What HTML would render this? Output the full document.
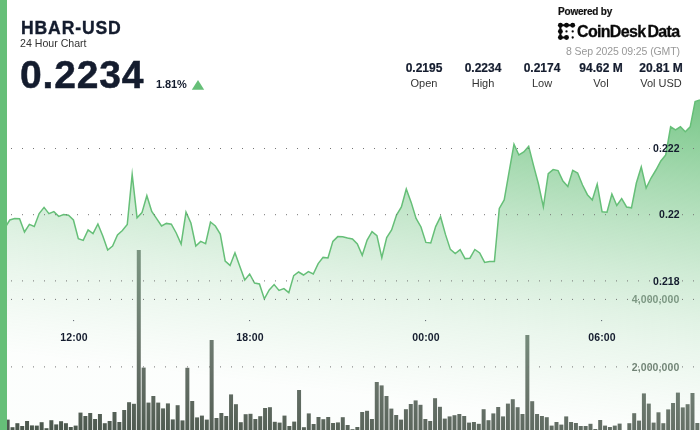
<!DOCTYPE html>
<html><head><meta charset="utf-8"><title>HBAR-USD</title>
<style>
html,body{margin:0;padding:0;background:#fff;}
body{width:700px;height:430px;position:relative;overflow:hidden;font-family:"Liberation Sans",sans-serif;color:#141c2e;}
.abs{position:absolute;white-space:nowrap;line-height:1;will-change:transform;}
#bar{position:absolute;left:0;top:0;width:7.4px;height:430px;background:#66bf78;}
svg{position:absolute;left:0;top:0;will-change:transform;}
.b{font-weight:bold;}
.stat{position:absolute;width:60px;text-align:center;white-space:nowrap;line-height:1;will-change:transform;}
.sv{-webkit-text-stroke:0.2px #141c2e;font-weight:bold;font-size:12px;top:62px;letter-spacing:0px;}
.sl{font-size:11px;top:77.5px;color:#333;}
.ax{font-weight:bold;font-size:10.5px;text-align:right;}
</style></head><body>
<svg width="700" height="430" viewBox="0 0 700 430">
<defs><linearGradient id="g" x1="688" y1="99" x2="648.4" y2="429.2" gradientUnits="userSpaceOnUse">
<stop offset="0.0000" stop-color="#66bf78" stop-opacity="0.885"/><stop offset="0.1104" stop-color="#66bf78" stop-opacity="0.745"/><stop offset="0.2507" stop-color="#66bf78" stop-opacity="0.58"/><stop offset="0.3910" stop-color="#66bf78" stop-opacity="0.43"/><stop offset="0.5254" stop-color="#66bf78" stop-opacity="0.305"/><stop offset="0.6597" stop-color="#66bf78" stop-opacity="0.196"/><stop offset="0.7493" stop-color="#66bf78" stop-opacity="0.137"/><stop offset="0.9015" stop-color="#66bf78" stop-opacity="0.06"/><stop offset="1.0000" stop-color="#66bf78" stop-opacity="0.02"/>
</linearGradient>
<linearGradient id="bg" x1="688" y1="300" x2="662" y2="516.9" gradientUnits="userSpaceOnUse"><stop offset="0.0000" stop-color="rgb(124,152,131)"/><stop offset="0.0727" stop-color="rgb(122,148,128)"/><stop offset="0.2955" stop-color="rgb(115,135,120)"/><stop offset="0.4455" stop-color="rgb(109,123,112)"/><stop offset="0.5682" stop-color="rgb(103,114,104)"/><stop offset="0.6364" stop-color="rgb(98,109,100)"/><stop offset="0.7500" stop-color="rgb(91,102,92)"/><stop offset="0.9273" stop-color="rgb(76,88,78)"/><stop offset="1.0000" stop-color="rgb(72,84,74)"/></linearGradient></defs>
<path d="M0.00,230.0 L4.90,228.0 L9.79,220.0 L14.69,218.6 L19.58,218.8 L24.48,232.0 L29.37,224.4 L34.27,226.4 L39.16,213.6 L44.06,207.4 L48.95,213.6 L53.85,211.6 L58.74,216.4 L63.64,214.6 L68.53,215.2 L73.43,220.0 L78.32,238.6 L83.22,240.4 L88.11,230.0 L93.01,233.6 L97.90,224.0 L102.80,236.0 L107.69,250.0 L112.59,246.0 L117.48,235.0 L122.38,230.5 L127.27,224.4 L132.17,174.4 L137.06,217.8 L141.96,212.6 L146.85,195.7 L151.75,211.4 L156.64,218.6 L161.54,226.0 L166.43,223.4 L171.33,224.2 L176.22,233.0 L181.12,244.1 L186.01,212.2 L190.91,223.0 L195.80,246.0 L200.70,241.4 L205.59,243.6 L210.49,222.0 L215.38,226.0 L220.28,234.0 L225.17,261.0 L230.07,265.4 L234.97,252.8 L239.86,266.6 L244.76,280.0 L249.65,274.0 L254.55,283.0 L259.44,284.0 L264.34,298.9 L269.23,290.0 L274.13,284.6 L279.02,290.4 L283.92,288.6 L288.81,292.6 L293.71,275.6 L298.60,272.0 L303.50,275.0 L308.39,271.6 L313.29,274.0 L318.18,263.6 L323.08,257.4 L327.97,258.0 L332.87,241.4 L337.76,236.6 L342.66,236.8 L347.55,238.0 L352.45,239.0 L357.34,244.0 L362.24,255.3 L367.13,240.0 L372.03,231.6 L376.92,235.6 L381.82,257.6 L386.71,237.6 L391.61,230.0 L396.50,215.0 L401.40,207.0 L406.29,189.0 L411.19,202.4 L416.08,218.4 L420.98,227.0 L425.87,242.4 L430.77,243.0 L435.66,226.6 L440.56,216.7 L445.45,234.4 L450.35,249.4 L455.24,253.6 L460.14,249.6 L465.03,258.6 L469.93,258.2 L474.83,249.5 L479.72,253.0 L484.62,262.4 L489.51,261.4 L494.41,261.4 L499.30,208.4 L504.20,200.0 L509.09,171.8 L513.99,144.3 L518.88,155.0 L523.78,152.0 L528.67,146.4 L533.57,165.6 L538.46,184.0 L543.36,206.8 L548.25,173.6 L553.15,169.6 L558.04,170.6 L562.94,181.0 L567.83,186.4 L572.73,170.4 L577.62,173.0 L582.52,185.0 L587.41,194.7 L592.31,200.0 L597.20,184.1 L602.10,211.8 L606.99,212.2 L611.89,194.0 L616.78,205.5 L621.68,198.6 L626.57,207.0 L631.47,207.8 L636.36,183.0 L641.26,167.0 L646.15,188.1 L651.05,178.0 L655.94,170.0 L660.84,161.0 L665.73,155.0 L670.63,126.8 L675.52,129.8 L680.42,126.8 L685.31,131.8 L690.21,126.9 L695.10,101.6 L700.00,100.0 L700,434 L0,434 Z" fill="url(#g)"/>
<path d="M0.00,230.0 L4.90,228.0 L9.79,220.0 L14.69,218.6 L19.58,218.8 L24.48,232.0 L29.37,224.4 L34.27,226.4 L39.16,213.6 L44.06,207.4 L48.95,213.6 L53.85,211.6 L58.74,216.4 L63.64,214.6 L68.53,215.2 L73.43,220.0 L78.32,238.6 L83.22,240.4 L88.11,230.0 L93.01,233.6 L97.90,224.0 L102.80,236.0 L107.69,250.0 L112.59,246.0 L117.48,235.0 L122.38,230.5 L127.27,224.4 L132.17,174.4 L137.06,217.8 L141.96,212.6 L146.85,195.7 L151.75,211.4 L156.64,218.6 L161.54,226.0 L166.43,223.4 L171.33,224.2 L176.22,233.0 L181.12,244.1 L186.01,212.2 L190.91,223.0 L195.80,246.0 L200.70,241.4 L205.59,243.6 L210.49,222.0 L215.38,226.0 L220.28,234.0 L225.17,261.0 L230.07,265.4 L234.97,252.8 L239.86,266.6 L244.76,280.0 L249.65,274.0 L254.55,283.0 L259.44,284.0 L264.34,298.9 L269.23,290.0 L274.13,284.6 L279.02,290.4 L283.92,288.6 L288.81,292.6 L293.71,275.6 L298.60,272.0 L303.50,275.0 L308.39,271.6 L313.29,274.0 L318.18,263.6 L323.08,257.4 L327.97,258.0 L332.87,241.4 L337.76,236.6 L342.66,236.8 L347.55,238.0 L352.45,239.0 L357.34,244.0 L362.24,255.3 L367.13,240.0 L372.03,231.6 L376.92,235.6 L381.82,257.6 L386.71,237.6 L391.61,230.0 L396.50,215.0 L401.40,207.0 L406.29,189.0 L411.19,202.4 L416.08,218.4 L420.98,227.0 L425.87,242.4 L430.77,243.0 L435.66,226.6 L440.56,216.7 L445.45,234.4 L450.35,249.4 L455.24,253.6 L460.14,249.6 L465.03,258.6 L469.93,258.2 L474.83,249.5 L479.72,253.0 L484.62,262.4 L489.51,261.4 L494.41,261.4 L499.30,208.4 L504.20,200.0 L509.09,171.8 L513.99,144.3 L518.88,155.0 L523.78,152.0 L528.67,146.4 L533.57,165.6 L538.46,184.0 L543.36,206.8 L548.25,173.6 L553.15,169.6 L558.04,170.6 L562.94,181.0 L567.83,186.4 L572.73,170.4 L577.62,173.0 L582.52,185.0 L587.41,194.7 L592.31,200.0 L597.20,184.1 L602.10,211.8 L606.99,212.2 L611.89,194.0 L616.78,205.5 L621.68,198.6 L626.57,207.0 L631.47,207.8 L636.36,183.0 L641.26,167.0 L646.15,188.1 L651.05,178.0 L655.94,170.0 L660.84,161.0 L665.73,155.0 L670.63,126.8 L675.52,129.8 L680.42,126.8 L685.31,131.8 L690.21,126.9 L695.10,101.6 L700.00,100.0" fill="none" stroke="#66bf78" stroke-width="1.5" stroke-linejoin="miter" stroke-miterlimit="20"/>
<g fill="url(#bg)"><rect x="5.64" y="419.6" width="4" height="14.4"/><rect x="10.50" y="427.2" width="4" height="6.8"/><rect x="15.36" y="423.2" width="4" height="10.8"/><rect x="20.21" y="426.0" width="4" height="8.0"/><rect x="25.07" y="421.0" width="4" height="13.0"/><rect x="29.93" y="425.4" width="4" height="8.6"/><rect x="34.79" y="425.6" width="4" height="8.4"/><rect x="39.64" y="422.2" width="4" height="11.8"/><rect x="44.50" y="428.2" width="4" height="5.8"/><rect x="49.36" y="420.2" width="4" height="13.8"/><rect x="54.21" y="424.4" width="4" height="9.6"/><rect x="59.07" y="421.2" width="4" height="12.8"/><rect x="63.93" y="423.2" width="4" height="10.8"/><rect x="68.78" y="427.0" width="4" height="7.0"/><rect x="73.64" y="425.6" width="4" height="8.4"/><rect x="78.50" y="412.6" width="4" height="21.4"/><rect x="83.36" y="416.0" width="4" height="18.0"/><rect x="88.21" y="413.0" width="4" height="21.0"/><rect x="93.07" y="419.0" width="4" height="15.0"/><rect x="97.93" y="414.0" width="4" height="20.0"/><rect x="102.78" y="423.2" width="4" height="10.8"/><rect x="107.64" y="421.0" width="4" height="13.0"/><rect x="112.50" y="412.0" width="4" height="22.0"/><rect x="117.35" y="422.0" width="4" height="12.0"/><rect x="122.21" y="410.0" width="4" height="24.0"/><rect x="127.07" y="402.2" width="4" height="31.8"/><rect x="131.93" y="403.8" width="4" height="30.2"/><rect x="136.78" y="250.0" width="4" height="184.0"/><rect x="141.64" y="367.6" width="4" height="66.4"/><rect x="146.50" y="402.6" width="4" height="31.4"/><rect x="151.35" y="396.0" width="4" height="38.0"/><rect x="156.21" y="402.6" width="4" height="31.4"/><rect x="161.07" y="408.4" width="4" height="25.6"/><rect x="165.92" y="403.4" width="4" height="30.6"/><rect x="170.78" y="419.4" width="4" height="14.6"/><rect x="175.64" y="405.2" width="4" height="28.8"/><rect x="180.50" y="420.4" width="4" height="13.6"/><rect x="185.35" y="367.8" width="4" height="66.2"/><rect x="190.21" y="401.0" width="4" height="33.0"/><rect x="195.07" y="417.4" width="4" height="16.6"/><rect x="199.92" y="415.6" width="4" height="18.4"/><rect x="204.78" y="419.6" width="4" height="14.4"/><rect x="209.64" y="340.0" width="4" height="94.0"/><rect x="214.49" y="418.0" width="4" height="16.0"/><rect x="219.35" y="413.0" width="4" height="21.0"/><rect x="224.21" y="416.0" width="4" height="18.0"/><rect x="229.06" y="394.4" width="4" height="39.6"/><rect x="233.92" y="404.2" width="4" height="29.8"/><rect x="238.78" y="422.2" width="4" height="11.8"/><rect x="243.64" y="414.2" width="4" height="19.8"/><rect x="248.49" y="413.8" width="4" height="20.2"/><rect x="253.35" y="419.0" width="4" height="15.0"/><rect x="258.21" y="416.2" width="4" height="17.8"/><rect x="263.06" y="408.0" width="4" height="26.0"/><rect x="267.92" y="407.2" width="4" height="26.8"/><rect x="272.78" y="421.8" width="4" height="12.2"/><rect x="277.63" y="422.6" width="4" height="11.4"/><rect x="282.49" y="415.6" width="4" height="18.4"/><rect x="287.35" y="426.0" width="4" height="8.0"/><rect x="292.21" y="421.6" width="4" height="12.4"/><rect x="297.06" y="390.0" width="4" height="44.0"/><rect x="301.92" y="427.2" width="4" height="6.8"/><rect x="306.78" y="413.4" width="4" height="20.6"/><rect x="311.63" y="424.0" width="4" height="10.0"/><rect x="316.49" y="417.0" width="4" height="17.0"/><rect x="321.35" y="419.2" width="4" height="14.8"/><rect x="326.21" y="417.0" width="4" height="17.0"/><rect x="331.06" y="423.0" width="4" height="11.0"/><rect x="335.92" y="422.4" width="4" height="11.6"/><rect x="340.78" y="417.2" width="4" height="16.8"/><rect x="345.63" y="425.0" width="4" height="9.0"/><rect x="350.49" y="429.2" width="4" height="4.8"/><rect x="355.35" y="427.0" width="4" height="7.0"/><rect x="360.20" y="412.0" width="4" height="22.0"/><rect x="365.06" y="410.8" width="4" height="23.2"/><rect x="369.92" y="419.0" width="4" height="15.0"/><rect x="374.78" y="382.0" width="4" height="52.0"/><rect x="379.63" y="385.4" width="4" height="48.6"/><rect x="384.49" y="396.0" width="4" height="38.0"/><rect x="389.35" y="408.6" width="4" height="25.4"/><rect x="394.20" y="415.0" width="4" height="19.0"/><rect x="399.06" y="419.6" width="4" height="14.4"/><rect x="403.92" y="409.2" width="4" height="24.8"/><rect x="408.77" y="404.0" width="4" height="30.0"/><rect x="413.63" y="400.4" width="4" height="33.6"/><rect x="418.49" y="404.8" width="4" height="29.2"/><rect x="423.35" y="419.0" width="4" height="15.0"/><rect x="428.20" y="421.0" width="4" height="13.0"/><rect x="433.06" y="398.2" width="4" height="35.8"/><rect x="437.92" y="406.8" width="4" height="27.2"/><rect x="442.77" y="418.6" width="4" height="15.4"/><rect x="447.63" y="416.4" width="4" height="17.6"/><rect x="452.49" y="415.2" width="4" height="18.8"/><rect x="457.34" y="414.0" width="4" height="20.0"/><rect x="462.20" y="416.0" width="4" height="18.0"/><rect x="467.06" y="422.6" width="4" height="11.4"/><rect x="471.92" y="422.0" width="4" height="12.0"/><rect x="476.77" y="423.8" width="4" height="10.2"/><rect x="481.63" y="409.2" width="4" height="24.8"/><rect x="486.49" y="420.2" width="4" height="13.8"/><rect x="491.34" y="413.4" width="4" height="20.6"/><rect x="496.20" y="407.0" width="4" height="27.0"/><rect x="501.06" y="416.4" width="4" height="17.6"/><rect x="505.91" y="403.6" width="4" height="30.4"/><rect x="510.77" y="399.2" width="4" height="34.8"/><rect x="515.63" y="407.2" width="4" height="26.8"/><rect x="520.49" y="414.0" width="4" height="20.0"/><rect x="525.34" y="335.0" width="4" height="99.0"/><rect x="530.20" y="401.2" width="4" height="32.8"/><rect x="535.06" y="414.0" width="4" height="20.0"/><rect x="539.91" y="416.0" width="4" height="18.0"/><rect x="544.77" y="417.2" width="4" height="16.8"/><rect x="549.63" y="425.6" width="4" height="8.4"/><rect x="554.48" y="422.0" width="4" height="12.0"/><rect x="559.34" y="424.6" width="4" height="9.4"/><rect x="564.20" y="416.4" width="4" height="17.6"/><rect x="569.06" y="422.0" width="4" height="12.0"/><rect x="573.91" y="423.0" width="4" height="11.0"/><rect x="578.77" y="426.0" width="4" height="8.0"/><rect x="583.63" y="426.0" width="4" height="8.0"/><rect x="588.48" y="423.8" width="4" height="10.2"/><rect x="593.34" y="429.0" width="4" height="5.0"/><rect x="598.20" y="420.0" width="4" height="14.0"/><rect x="603.05" y="425.6" width="4" height="8.4"/><rect x="607.91" y="427.0" width="4" height="7.0"/><rect x="612.77" y="425.6" width="4" height="8.4"/><rect x="617.63" y="423.6" width="4" height="10.4"/><rect x="627.34" y="423.2" width="4" height="10.8"/><rect x="632.20" y="413.2" width="4" height="20.8"/><rect x="637.05" y="420.6" width="4" height="13.4"/><rect x="641.91" y="393.4" width="4" height="40.6"/><rect x="646.77" y="403.6" width="4" height="30.4"/><rect x="651.62" y="422.6" width="4" height="11.4"/><rect x="656.48" y="412.3" width="4" height="21.7"/><rect x="661.34" y="423.2" width="4" height="10.8"/><rect x="666.20" y="409.4" width="4" height="24.6"/><rect x="671.05" y="403.0" width="4" height="31.0"/><rect x="675.91" y="392.6" width="4" height="41.4"/><rect x="680.77" y="407.4" width="4" height="26.6"/><rect x="685.62" y="404.2" width="4" height="29.8"/><rect x="690.48" y="393.0" width="4" height="41.0"/><rect x="695.34" y="423.0" width="4" height="11.0"/></g>
<g stroke="#747474" stroke-width="1.0" stroke-dasharray="1 10"><line x1="0" x2="700" y1="148.5" y2="148.5"/><line x1="0" x2="700" y1="214.7" y2="214.7"/><line x1="0" x2="700" y1="280.9" y2="280.9"/><line x1="0" x2="700" y1="299.4" y2="299.4"/><line x1="0" x2="700" y1="366.9" y2="366.9"/></g>
<g fill="#141c2e" fill-opacity="0.75"><rect x="73.1" y="320.1" width="1" height="1"/><rect x="249.1" y="320.1" width="1" height="1"/><rect x="425.1" y="320.1" width="1" height="1"/><rect x="601.1" y="320.1" width="1" height="1"/></g>
<text x="679.5" y="303.09999999999997" text-anchor="end" font-family="Liberation Sans, sans-serif" font-weight="bold" font-size="10.5" letter-spacing="0.12" fill="url(#bg)">4,000,000</text><text x="679.5" y="370.59999999999997" text-anchor="end" font-family="Liberation Sans, sans-serif" font-weight="bold" font-size="10.5" letter-spacing="0.12" fill="url(#bg)">2,000,000</text>
<polygon points="191.8,89.8 204.2,89.8 198,80" fill="#66bf78"/>
<g fill="#0a0a0a" stroke="#0a0a0a" transform="translate(0,0.3)">
<path d="M560.4,37.2 L560.4,25 L572.7,25 M560.4,37.2 L566.5,37.2" fill="none" stroke-width="2.1"/>
<circle cx="560.4" cy="25" r="2.45" stroke="none"/><circle cx="566.5" cy="25" r="2.45" stroke="none"/><circle cx="572.7" cy="25" r="2.45" stroke="none"/>
<circle cx="560.4" cy="31.1" r="2.45" stroke="none"/><circle cx="560.4" cy="37.2" r="2.45" stroke="none"/><circle cx="566.5" cy="37.2" r="2.45" stroke="none"/>
<circle cx="566.5" cy="31.1" r="1.15" stroke="none"/><circle cx="572.7" cy="31.1" r="1.15" stroke="none"/><circle cx="572.7" cy="37.2" r="1.15" stroke="none"/>
</g>
</svg>
<div id="bar"></div>
<div class="abs b" id="title" style="-webkit-text-stroke:0.35px #141c2e;left:20.5px;top:20px;font-size:17.6px;letter-spacing:0.85px;">HBAR-USD</div>
<div class="abs" id="sub" style="left:19.5px;top:38.2px;font-size:10.6px;letter-spacing:0px;color:#333;">24 Hour Chart</div>
<div class="abs b" id="price" style="-webkit-text-stroke:0.5px #141c2e;left:20px;top:55px;font-size:39px;letter-spacing:0.85px;">0.2234</div>
<div class="abs b" id="pct" style="left:155.7px;top:79px;font-size:11px;letter-spacing:-0.1px;">1.81%</div>
<div class="abs b" id="pw" style="-webkit-text-stroke:0.2px #111;left:558.4px;top:6.6px;font-size:10px;letter-spacing:-0.2px;color:#111;">Powered by</div>
<div class="abs b" id="cd" style="-webkit-text-stroke:0.3px #0a0a0a;left:576.6px;top:23.6px;font-size:16px;letter-spacing:-0.67px;color:#0a0a0a;">CoinDesk<span style="margin-left:2px">Data</span></div>
<div class="abs" id="date" style="right:20px;top:46px;font-size:10.5px;letter-spacing:-0.1px;color:#999;">8 Sep 2025 09:25 (GMT)</div>
<div class="stat sv" id="sv0" style="left:394px;">0.2195</div><div class="stat sl" id="sl0" style="left:394px;">Open</div>
<div class="stat sv" id="sv1" style="left:453px;">0.2234</div><div class="stat sl" id="sl1" style="left:453px;">High</div>
<div class="stat sv" id="sv2" style="left:512px;">0.2174</div><div class="stat sl" id="sl2" style="left:512px;">Low</div>
<div class="stat sv" id="sv3" style="left:571.4px;">94.62 M</div><div class="stat sl" id="sl3" style="left:571.4px;">Vol</div>
<div class="stat sv" id="sv4" style="left:630.5px;">20.81 M</div><div class="stat sl" id="sl4" style="left:630.5px;">Vol USD</div>
<div class="abs ax" id="xt0" style="left:54px;width:40px;text-align:center;top:331.7px;letter-spacing:0.08px;">12:00</div>
<div class="abs ax" id="xt1" style="left:230px;width:40px;text-align:center;top:331.7px;letter-spacing:0.08px;">18:00</div>
<div class="abs ax" id="xt2" style="left:406px;width:40px;text-align:center;top:331.7px;letter-spacing:0.08px;">00:00</div>
<div class="abs ax" id="xt3" style="left:582px;width:40px;text-align:center;top:331.7px;letter-spacing:0.08px;">06:00</div>
<div class="abs ax" id="yt0" style="right:20.5px;top:142.9px;letter-spacing:0.08px;">0.222</div>
<div class="abs ax" id="yt1" style="right:20.5px;top:209.0px;letter-spacing:0.08px;">0.22</div>
<div class="abs ax" id="yt2" style="right:20.5px;top:275.5px;letter-spacing:0.08px;">0.218</div>
</body></html>
